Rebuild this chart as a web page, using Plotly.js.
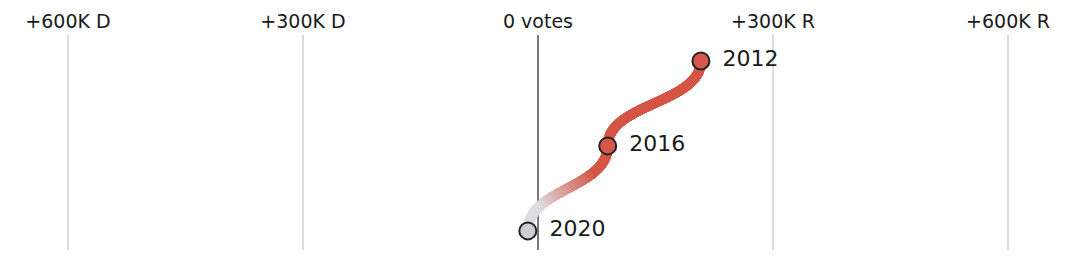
<!DOCTYPE html>
<html>
<head>
<meta charset="utf-8">
<script src="https://cdn.plot.ly/plotly-3.0.1.min.js"></script>
<style>
html,body{margin:0;padding:0;background:#fff;}
#chart{width:1080px;height:278px;}
</style>
</head>
<body>
<div id="chart"></div>
<script>
// Data
const years = [2012, 2016, 2020];
const voteMargins = [208000, 89000, -13000]; // positive = R, negative = D
const yearLabels = ['2012', '2016', '2020'];
const tickValues = [-600000, -300000, 0, 300000, 600000];
const tickLabels = ['+600K D', '+300K D', '0 votes', '+300K R', '+600K R'];
const pointColors = ['#d5564a', '#d5564a', '#cbced6'];

const RED = [213, 86, 70];
const GREY = [222, 222, 226];
const FONT = '"DejaVu Sans", "Liberation Sans", Arial, sans-serif';

// Smooth bump curve (vertical tangents) between consecutive data points
const cx = [], cy = [], cc = [];
const N = 400;
for (let i = 0; i < years.length - 1; i++) {
  const x0 = voteMargins[i], x1 = voteMargins[i + 1];
  const y0 = years[i], y1 = years[i + 1];
  const ym = (y0 + y1) / 2;
  const fade = pointColors[i + 1] !== pointColors[i];
  for (let k = 0; k <= N; k++) {
    const t = k / N, u = 1 - t;
    const x = u*u*u*x0 + 3*u*u*t*x0 + 3*u*t*t*x1 + t*t*t*x1;
    const y = u*u*u*y0 + 3*u*u*t*ym + 3*u*t*t*ym + t*t*t*y1;
    let f = 0;
    if (fade) f = Math.min(1, Math.max(0, (t - 0.3) / 0.5));
    const c = RED.map((v, j) => Math.round(v + (GREY[j] - v) * f));
    cx.push(x); cy.push(y); cc.push('rgb(' + c.join(',') + ')');
  }
}

const traces = [
  {
    x: cx, y: cy, type: 'scatter', mode: 'markers',
    marker: {size: 10, color: cc, line: {width: 0}},
    hoverinfo: 'skip', showlegend: false
  },
  {
    x: voteMargins, y: years, type: 'scatter', mode: 'markers',
    marker: {size: 17, color: pointColors, line: {color: '#222', width: 2}},
    hoverinfo: 'skip', showlegend: false, cliponaxis: false
  },
  {
    x: voteMargins, y: years, type: 'scatter', mode: 'markers+text',
    text: yearLabels, textposition: 'middle right',
    textfont: {family: FONT, size: 22, color: '#1a1a1a'},
    marker: {size: 33, color: 'rgba(0,0,0,0)', line: {width: 0}},
    hoverinfo: 'skip', showlegend: false, cliponaxis: false
  }
];

const layout = {
  width: 1080, height: 278,
  margin: {l: 0, r: 0, t: 35, b: 28},
  paper_bgcolor: '#fff', plot_bgcolor: '#fff',
  showlegend: false,
  xaxis: {
    range: [-686809, 691915],
    side: 'top',
    tickvals: tickValues, ticktext: tickLabels,
    tickfont: {family: FONT, size: 19, color: '#1a1a1a'},
    showgrid: true, gridcolor: '#dcdcdc', gridwidth: 1.5,
    zeroline: true, zerolinecolor: '#7a7a7a', zerolinewidth: 2,
    showline: false, ticks: '', ticklabelstandoff: 2, fixedrange: true
  },
  yaxis: {
    range: [2020.90, 2010.78],
    showgrid: false, zeroline: false, showticklabels: false, showline: false,
    ticks: '', fixedrange: true
  }
};

Plotly.newPlot('chart', traces, layout, {displayModeBar: false, staticPlot: true});
</script>
</body>
</html>
